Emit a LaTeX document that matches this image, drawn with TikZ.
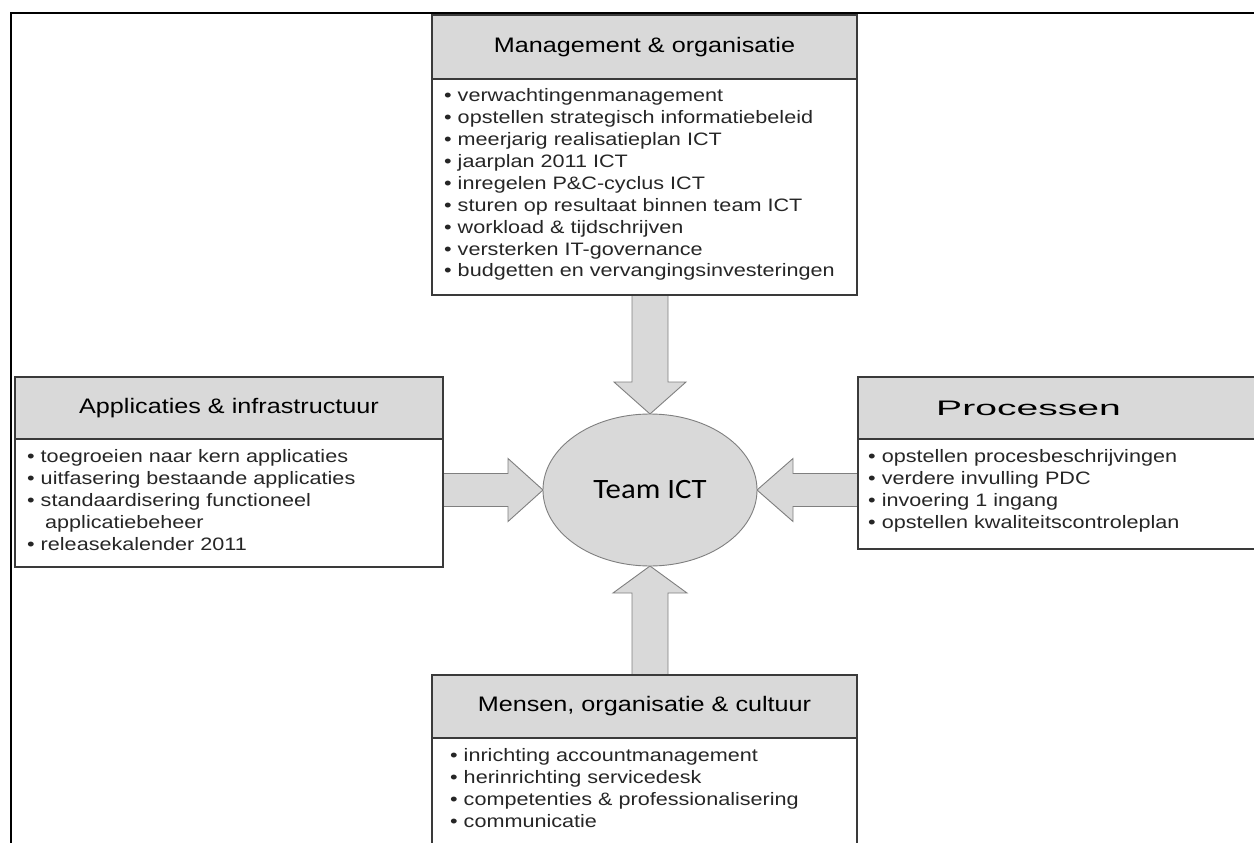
\documentclass[tikz,border=0pt]{standalone}
\usepackage{fontspec}
\usepackage{graphicx}
\newfontfamily\bodyfont{Liberation Sans}[FakeStretch=1.2]
\newfontfamily\teamfont{Carlito}[FakeStretch=1.1]
\usetikzlibrary{shapes.geometric,calc,backgrounds}
\definecolor{boxgray}{HTML}{D9D9D9}
\definecolor{edgedark}{HTML}{3A3A3A}
\definecolor{arrowedge}{HTML}{7F7F7F}
\begin{document}
\begin{tikzpicture}[x=1pt,y=-1pt,
  hdr/.style={draw=edgedark, line width=1.6pt, fill=boxgray, rectangle, anchor=north west,
    inner sep=0pt, outer sep=0pt, font=\bodyfont\fontsize{21pt}{25pt}\selectfont},
  bodybox/.style={draw=edgedark, line width=1.6pt, fill=white, rectangle, anchor=north west,
    inner sep=0pt, outer sep=0pt},
  items/.style={anchor=north west, inner sep=0pt, align=left,
    font=\bodyfont\fontsize{18pt}{21.9pt}\selectfont, text=black!85},
  barrow/.style={draw=arrowedge, line width=0.9pt, fill=boxgray, line join=miter},
  center/.style={ellipse, draw=arrowedge, line width=0.9pt, fill=boxgray, inner sep=0pt,
    outer sep=0pt, font=\teamfont\fontsize{28pt}{32pt}\selectfont},
]
\useasboundingbox (0,0) rectangle (1254,843);
\clip (0,0) rectangle (1254,843);
\draw[line width=2.5pt] (11,843) -- (11,13) -- (1254,13);

% top box
\node[bodybox, minimum width=425pt, minimum height=216pt] (mbody) at (432,79) {};
\node[hdr, minimum width=425pt, minimum height=64pt] (mhead) at (432,15) {Management \& organisatie};
\node[items] (mitems) at (444,86.5) {\rule{0pt}{15pt}• verwachtingenmanagement\\
• opstellen strategisch informatiebeleid\\
• meerjarig realisatieplan ICT\\
• jaarplan 2011 ICT\\
• inregelen P\&C-cyclus ICT\\
• sturen op resultaat binnen team ICT\\
• workload \& tijdschrijven\\
• versterken IT-governance\\
• budgetten en vervangingsinvesteringen};

% left box
\node[bodybox, minimum width=428pt, minimum height=128pt] (abody) at (15,439) {};
\node[hdr, minimum width=428pt, minimum height=62pt] (ahead) at (15,377) {Applicaties \& infrastructuur};
\node[items] (aitems) at (27,447.5) {\rule{0pt}{15pt}• toegroeien naar kern applicaties\\
• uitfasering bestaande applicaties\\
• standaardisering functioneel\\
\hspace*{18pt}applicatiebeheer\\
• releasekalender 2011};

% right box
\node[bodybox, minimum width=430pt, minimum height=110pt] (pbody) at (858,439) {};
\node[hdr, minimum width=430pt, minimum height=62pt] (phead) at (858,377) {};
\node[font=\bodyfont\fontsize{21pt}{25pt}\selectfont, inner sep=0pt] (ptitle) at (1028.5,408) {\scalebox{1.55}[1]{Processen}};
\node[items] (pitems) at (868,447.5) {\rule{0pt}{15pt}• opstellen procesbeschrijvingen\\
• verdere invulling PDC\\
• invoering 1 ingang\\
• opstellen kwaliteitscontroleplan};

% bottom box
\node[bodybox, minimum width=425pt, minimum height=140pt] (obody) at (432,738) {};
\node[hdr, minimum width=425pt, minimum height=63pt] (ohead) at (432,675) {Mensen, organisatie \& cultuur};
\node[items] (oitems) at (450,746.5) {\rule{0pt}{15pt}• inrichting accountmanagement\\
• herinrichting servicedesk\\
• competenties \& professionalisering\\
• communicatie};

% centre
\node[center, minimum width=214pt, minimum height=152pt] (team) at (650,490) {Team ICT};

\begin{scope}[on background layer]
  % top arrow
  \path (team.north) ++(-18,-32) coordinate (tbl) ++(36,0) coordinate (tbr);
  \draw[barrow] (team.north) -- ++(-36,-32) -- (tbl) -- (tbl |- mbody.south)
    -- (tbr |- mbody.south) -- (tbr) -- ++(18,0) -- cycle;
  % left arrow
  \path (team.west) ++(-35,-16.5) coordinate (lbt) ++(0,33) coordinate (lbb);
  \draw[barrow] (team.west) -- ++(-35,-31.5) -- (lbt) -- (lbt -| abody.east)
    -- (lbb -| abody.east) -- (lbb) -- ++(0,15) -- cycle;
  % right arrow
  \path (team.east) ++(36,-16.5) coordinate (rbt) ++(0,33) coordinate (rbb);
  \draw[barrow] (team.east) -- ++(36,-31.5) -- (rbt) -- (rbt -| pbody.west)
    -- (rbb -| pbody.west) -- (rbb) -- ++(0,15) -- cycle;
  % bottom arrow
  \path (team.south) ++(-18,27) coordinate (bbl) ++(36,0) coordinate (bbr);
  \draw[barrow] (team.south) -- ++(-37,27) -- (bbl) -- (bbl |- ohead.north)
    -- (bbr |- ohead.north) -- (bbr) -- ++(19,0) -- cycle;
\end{scope}
\end{tikzpicture}
\end{document}
